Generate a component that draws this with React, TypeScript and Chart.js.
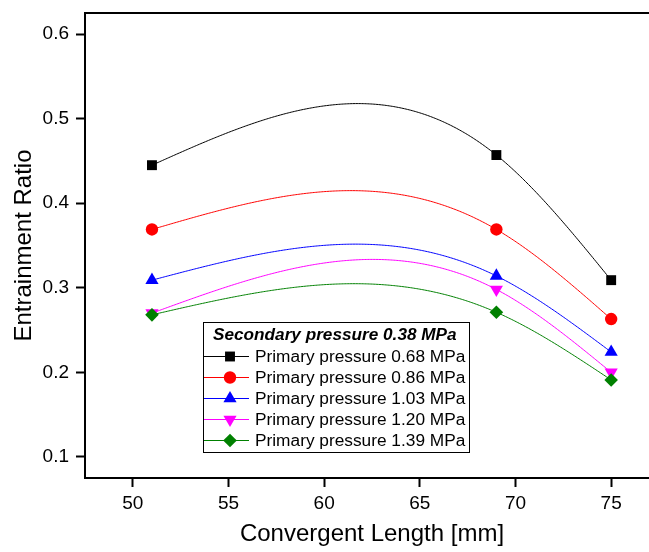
import React, { useEffect, useRef } from 'react';
import { Chart, registerables } from 'chart.js';

Chart.register(...registerables);

// ---- data ----
const convergentLength = [51, 69, 75];
const primary068 = [0.445, 0.457, 0.309];
const primary086 = [0.369, 0.369, 0.263];
const primary103 = [0.309, 0.314, 0.224];
const primary120 = [0.270, 0.298, 0.200];
const primary139 = [0.268, 0.271, 0.191];
const seriesLabels = [
  'Primary pressure 0.68 MPa',
  'Primary pressure 0.86 MPa',
  'Primary pressure 1.03 MPa',
  'Primary pressure 1.20 MPa',
  'Primary pressure 1.39 MPa',
];
const legendTitle = 'Secondary pressure 0.38 MPa';
const xTickValues = [50, 55, 60, 65, 70, 75];
const yTickValues = [0.1, 0.2, 0.3, 0.4, 0.5, 0.6];
const xTitle = 'Convergent Length [mm]';
const yTitle = 'Entrainment Ratio';

const FONT = '"Liberation Sans", Arial, sans-serif';

type Marker = { style: string; radius: number; rotation: number; color: string };
const seriesValues = [primary068, primary086, primary103, primary120, primary139];
const markers: Marker[] = [
  { style: 'rect', radius: 7, rotation: 0, color: '#000000' },
  { style: 'circle', radius: 6.2, rotation: 0, color: '#ff0000' },
  { style: 'triangle', radius: 7.6, rotation: 0, color: '#0000ff' },
  { style: 'triangle', radius: 7.6, rotation: 180, color: '#ff00ff' },
  { style: 'rectRot', radius: 6.8, rotation: 0, color: '#008000' },
];

function naturalSpline(xs: number[], ys: number[]) {
  const n = xs.length;
  const h = xs.slice(1).map((x, i) => x - xs[i]);
  const M = new Array(n).fill(0);
  if (n > 2) {
    const a: number[] = [], b: number[] = [], c: number[] = [], d: number[] = [];
    for (let i = 1; i < n - 1; i++) {
      a.push(h[i - 1]);
      b.push(2 * (h[i - 1] + h[i]));
      c.push(h[i]);
      d.push(6 * ((ys[i + 1] - ys[i]) / h[i] - (ys[i] - ys[i - 1]) / h[i - 1]));
    }
    const m = b.length;
    for (let i = 1; i < m; i++) {
      const w = a[i] / b[i - 1];
      b[i] -= w * c[i - 1];
      d[i] -= w * d[i - 1];
    }
    const sol = new Array(m);
    sol[m - 1] = d[m - 1] / b[m - 1];
    for (let i = m - 2; i >= 0; i--) sol[i] = (d[i] - c[i] * sol[i + 1]) / b[i];
    for (let i = 0; i < m; i++) M[i + 1] = sol[i];
  }
  return (x: number) => {
    let i = 0;
    while (i < n - 2 && x > xs[i + 1]) i++;
    const hi = h[i];
    const t0 = xs[i + 1] - x;
    const t1 = x - xs[i];
    return (
      (M[i] * t0 * t0 * t0) / (6 * hi) +
      (M[i + 1] * t1 * t1 * t1) / (6 * hi) +
      (ys[i] / hi - (M[i] * hi) / 6) * t0 +
      (ys[i + 1] / hi - (M[i + 1] * hi) / 6) * t1
    );
  };
}

function drawMarker(ctx: CanvasRenderingContext2D, mk: Marker, x: number, y: number) {
  const r = mk.radius;
  ctx.beginPath();
  if (mk.style === 'circle') {
    ctx.arc(x, y, r, 0, Math.PI * 2);
  } else if (mk.style === 'rect') {
    const s = r * Math.SQRT1_2;
    ctx.rect(x - s, y - s, 2 * s, 2 * s);
  } else if (mk.style === 'rectRot') {
    ctx.moveTo(x - r, y);
    ctx.lineTo(x, y - r);
    ctx.lineTo(x + r, y);
    ctx.lineTo(x, y + r);
    ctx.closePath();
  } else {
    let rad = (mk.rotation * Math.PI) / 180;
    ctx.moveTo(x + Math.sin(rad) * r, y - Math.cos(rad) * r);
    rad += (2 * Math.PI) / 3;
    ctx.lineTo(x + Math.sin(rad) * r, y - Math.cos(rad) * r);
    rad += (2 * Math.PI) / 3;
    ctx.lineTo(x + Math.sin(rad) * r, y - Math.cos(rad) * r);
    ctx.closePath();
  }
  ctx.fillStyle = mk.color;
  ctx.fill();
}

const splinePlugin = {
  id: 'splineCurves',
  beforeDatasetsDraw(chart: any) {
    const { ctx, chartArea, scales } = chart;
    const xs = scales.x;
    const ys = scales.y;
    ctx.save();
    ctx.beginPath();
    ctx.rect(chartArea.left, chartArea.top, chartArea.right - chartArea.left, chartArea.bottom - chartArea.top);
    ctx.clip();
    seriesValues.forEach((vals, si) => {
      const f = naturalSpline(convergentLength, vals);
      const x0 = convergentLength[0];
      const x1 = convergentLength[convergentLength.length - 1];
      const steps = 300;
      ctx.beginPath();
      for (let k = 0; k <= steps; k++) {
        const xv = x0 + ((x1 - x0) * k) / steps;
        const px = xs.getPixelForValue(xv);
        const py = ys.getPixelForValue(f(xv));
        if (k === 0) ctx.moveTo(px, py);
        else ctx.lineTo(px, py);
      }
      ctx.strokeStyle = markers[si].color;
      ctx.lineWidth = 1;
      ctx.stroke();
    });
    ctx.restore();
  },
  afterDraw(chart: any) {
    const { ctx, chartArea } = chart;
    ctx.save();
    // top frame line
    ctx.beginPath();
    ctx.moveTo(chartArea.left - 1, chartArea.top);
    ctx.lineTo(chartArea.right, chartArea.top);
    ctx.strokeStyle = '#000';
    ctx.lineWidth = 2;
    ctx.stroke();

    // legend box
    const bx = 203, by = 322, bw = 266, bh = 130;
    ctx.fillStyle = '#ffffff';
    ctx.fillRect(bx, by, bw, bh);
    ctx.strokeStyle = '#000';
    ctx.lineWidth = 1;
    ctx.strokeRect(bx + 0.5, by + 0.5, bw, bh);

    ctx.fillStyle = '#000';
    ctx.textBaseline = 'middle';
    ctx.textAlign = 'left';
    ctx.font = `italic bold 17.2px ${FONT}`;
    ctx.fillText(legendTitle, 213, 335);
    ctx.font = `17.3px ${FONT}`;
    seriesLabels.forEach((lab, i) => {
      const cy = 356.5 + i * 21;
      const mk = markers[i];
      ctx.beginPath();
      ctx.moveTo(204, cy);
      ctx.lineTo(249, cy);
      ctx.strokeStyle = mk.color;
      ctx.lineWidth = 1;
      ctx.stroke();
      drawMarker(ctx, mk, 230, cy);
      ctx.fillStyle = '#000';
      ctx.fillText(lab, 255, cy + 1);
    });
    ctx.restore();
  },
};

function zeroPad(s: any) {
  s.paddingTop = 0;
  s.paddingBottom = 0;
  s.paddingLeft = 0;
  s.paddingRight = 0;
}

export default function App() {
  const ref = useRef<HTMLCanvasElement | null>(null);
  useEffect(() => {
    if (!ref.current) return;
    const datasets = seriesValues.map((vals, i) => ({
      label: seriesLabels[i],
      data: convergentLength.map((x, j) => ({ x, y: vals[j] })),
      showLine: false,
      pointStyle: markers[i].style,
      pointRotation: markers[i].rotation,
      pointRadius: markers[i].radius,
      pointHoverRadius: markers[i].radius,
      pointBorderWidth: 0,
      backgroundColor: markers[i].color,
      borderColor: markers[i].color,
      order: seriesValues.length - i,
    }));
    const chart = new Chart(ref.current, {
      type: 'scatter',
      data: { datasets },
      plugins: [splinePlugin],
      options: {
        animation: false,
        responsive: false,
        devicePixelRatio: 1,
        layout: { autoPadding: false, padding: { top: 13, right: 0, left: 0, bottom: 0 } },
        plugins: { legend: { display: false }, tooltip: { enabled: false } },
        scales: {
          x: {
            type: 'linear',
            min: 47.5,
            max: 77.5,
            afterFit: (s: any) => { s.height = 74; zeroPad(s); },
            afterBuildTicks: (s: any) => { s.ticks = xTickValues.map((v) => ({ value: v })); },
            grid: { drawOnChartArea: false, drawTicks: true, tickLength: 9, tickWidth: 2, tickColor: '#000' },
            border: { display: true, color: '#000', width: 2 },
            ticks: {
              color: '#000',
              font: { family: FONT, size: 19 },
              padding: 5,
              maxRotation: 0,
              autoSkip: false,
              callback: (v: any) => String(v),
            },
            title: {
              display: true,
              text: xTitle,
              color: '#000',
              font: { family: FONT, size: 24 },
              padding: { top: 0, bottom: 3 },
            },
          },
          y: {
            type: 'linear',
            min: 0.075,
            max: 0.625,
            afterFit: (s: any) => { s.width = 85; zeroPad(s); },
            afterBuildTicks: (s: any) => { s.ticks = yTickValues.map((v) => ({ value: v })); },
            grid: { drawOnChartArea: false, drawTicks: true, tickLength: 9, tickWidth: 2, tickColor: '#000' },
            border: { display: true, color: '#000', width: 2 },
            ticks: {
              color: '#000',
              font: { family: FONT, size: 19 },
              padding: 7,
              autoSkip: false,
              callback: (v: any) => Number(v).toFixed(1),
            },
            title: {
              display: true,
              text: yTitle,
              color: '#000',
              font: { family: FONT, size: 24 },
              padding: { top: 10, bottom: 0 },
            },
          },
        },
      } as any,
    });
    return () => chart.destroy();
  }, []);
  return (
    <div
      style={{
        position: 'fixed',
        left: 0,
        top: 0,
        width: 649,
        height: 552,
        overflow: 'hidden',
        background: '#fff',
      }}
    >
      <canvas ref={ref} width={659} height={552} style={{ display: 'block' }} />
    </div>
  );
}
